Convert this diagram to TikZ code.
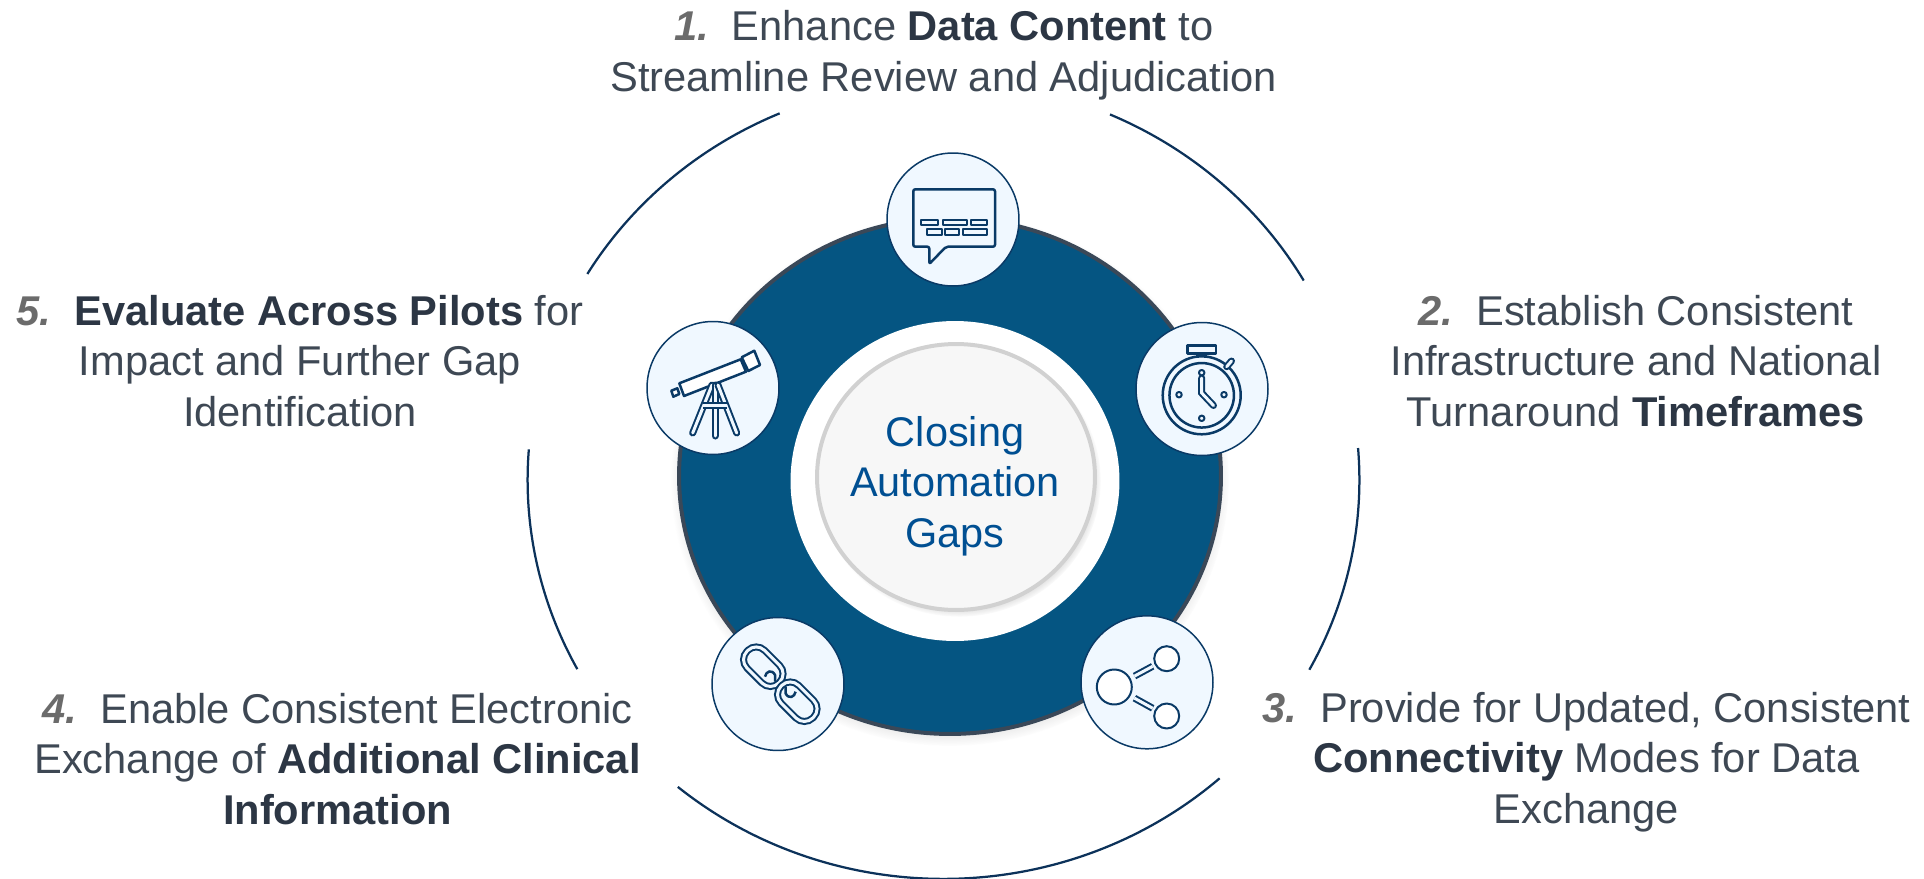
\documentclass[tikz,border=0pt]{standalone}
\usepackage{fontspec}
\setmainfont{Liberation Sans}
\usepackage{tikz}
\usetikzlibrary{shapes,arrows,positioning,calc,shadows}
\definecolor{discblue}{RGB}{5,85,130}
\definecolor{discrim}{RGB}{58,72,88}
\definecolor{ringblue}{RGB}{12,50,90}
\definecolor{iconfill}{RGB}{240,248,255}
\definecolor{iconline}{RGB}{10,58,102}
\definecolor{bodytext}{RGB}{62,72,84}
\definecolor{boldtext}{RGB}{44,54,68}
\definecolor{numgray}{RGB}{107,107,107}
\definecolor{hubtext}{RGB}{0,79,146}
\newcommand{\itemnum}[1]{{\color{numgray}\textbf{\textit{#1}}}\ \ }
\newcommand{\keyterm}[1]{{\color{boldtext}\textbf{#1}}}
\tikzset{
	itemtext/.style={align=center, text=bodytext, inner sep=0pt, font=\fontsize{23.7}{28.8}\selectfont},
	hubtextnode/.style={align=center, text=hubtext, inner sep=0pt, font=\fontsize{23.6}{28.8}\selectfont},
	iconbase/.style={ellipse, draw=iconline, line width=0.03cm, fill=iconfill, inner sep=0pt, minimum width=2.64cm, minimum height=2.66cm},
	ringline/.style={draw=ringblue, line width=0.045cm},
	iconthin/.style={draw=iconline, line width=0.05cm, line join=round},
	icondouble/.style={draw=iconline, line width=0.04cm, double=iconfill, double distance=0.06cm},
}
\begin{document}
\begin{tikzpicture}[x=0.02cm, y=-0.02cm]
	\useasboundingbox (0,0) rectangle (1924,879);
	\coordinate (ringc) at (943.5,480);
	\draw [ringline] ($(ringc)+(148.9:8.32cm and 7.98cm)$) arc [start angle=148.9, end angle=113.2, x radius=8.32cm, y radius=7.98cm];
	\draw [ringline] ($(ringc)+(66.4:8.32cm and 7.98cm)$) arc [start angle=66.4, end angle=30, x radius=8.32cm, y radius=7.98cm];
	\draw [ringline] ($(ringc)+(4.6:8.32cm and 7.98cm)$) arc [start angle=4.6, end angle=-28.4, x radius=8.32cm, y radius=7.98cm];
	\draw [ringline] ($(ringc)+(-48.4:8.32cm and 7.98cm)$) arc [start angle=-48.4, end angle=-129.7, x radius=8.32cm, y radius=7.98cm];
	\draw [ringline] ($(ringc)+(175.6:8.32cm and 7.98cm)$) arc [start angle=175.6, end angle=208.3, x radius=8.32cm, y radius=7.98cm];

	\node [ellipse, draw=discrim, line width=0.08cm, fill=discblue, inner sep=0pt, minimum width=10.84cm, minimum height=10.32cm, circular drop shadow={shadow xshift=0cm, shadow yshift=-0.08cm, shadow scale=1.03, opacity=0.5}] (disc) at (950,476) {};
	\node [ellipse, fill=white, inner sep=0pt, minimum width=6.58cm, minimum height=6.4cm] (hole) at (955,481) {};
	\node [ellipse, draw=black!18, line width=0.08cm, fill=black!3, inner sep=0pt, minimum width=5.56cm, minimum height=5.32cm, circular drop shadow={shadow xshift=0.06cm, shadow yshift=-0.08cm, shadow scale=1.02, opacity=0.6}] (hub) at (956,477) {};
	\node [hubtextnode] (hublabel) at (955,486) {Closing\\Automation\\Gaps};

	\node [iconbase] (chat) at (953,219.5) {};
	\node [iconbase] (watch) at (1202,389) {};
	\node [iconbase] (share) at (1147,682.3) {};
	\node [iconbase] (chain) at (778,684) {};
	\node [iconbase] (scope) at (713,388) {};

	% speech bubble
	\draw [iconthin, rounded corners=0.04cm] (946,246.7) -- (995,246.7) -- (995,189.3) -- (913.3,189.3) -- (913.3,246.7) -- (929.3,246.7) -- (929.3,264) -- cycle;
	\draw [iconthin, line width=0.04cm] (921.3,220) rectangle (938,225.3);
	\draw [iconthin, line width=0.04cm] (942.7,220) rectangle (966.7,225.3);
	\draw [iconthin, line width=0.04cm] (971.3,220) rectangle (986.7,225.3);
	\draw [iconthin, line width=0.04cm] (927.3,229.3) rectangle (941.7,235);
	\draw [iconthin, line width=0.04cm] (945,229.3) rectangle (959.3,235);
	\draw [iconthin, line width=0.04cm] (962.7,229.3) rectangle (986.7,235);

	% stopwatch
	\node [ellipse, iconthin, inner sep=0pt, minimum width=1.56cm, minimum height=1.56cm] (watchout) at (1201.7,395.3) {};
	\node [ellipse, iconthin, inner sep=0pt, minimum width=1.29cm, minimum height=1.29cm] (watchin) at (1201.7,395.3) {};
	\draw [iconthin] (1187.3,345.3) rectangle (1216,353.3);
	\draw [iconthin] (1197.3,353.3) -- (1197.3,358) (1205.3,353.3) -- (1205.3,358);
	\draw [icondouble, line cap=round] (1226.7,366.7) -- (1231.5,361);
	\draw [icondouble, line cap=round] (1201.7,378) -- (1201.7,393) -- (1213.5,405.5);
	\node [circle, iconthin, line width=0.04cm, inner sep=0pt, minimum size=0.11cm] (dotn) at (1201.7,372.7) {};
	\node [circle, iconthin, line width=0.04cm, inner sep=0pt, minimum size=0.11cm] (dots) at (1201.7,418.3) {};
	\node [circle, iconthin, line width=0.04cm, inner sep=0pt, minimum size=0.11cm] (dotw) at (1179,394.7) {};
	\node [circle, iconthin, line width=0.04cm, inner sep=0pt, minimum size=0.11cm] (dote) at (1224,394.7) {};

	% telescope
	\draw [iconthin, fill=white] (679.3,383.3) -- (740.7,359.3) -- (746,371.7) -- (684,396) -- cycle;
	\draw [iconthin, fill=white] (741.7,357.3) -- (754.3,350.7) -- (760,365) -- (748.3,371) -- cycle;
	\draw [iconthin, fill=white] (671.3,390.7) -- (677.3,388.3) -- (679.3,394) -- (673.3,396.7) -- cycle;
	\draw [icondouble, line cap=round] (712,385) -- (692.7,433);
	\draw [icondouble, line cap=round] (715,385) -- (715,436);
	\draw [icondouble, line cap=round] (718,385) -- (736.7,433);
	\draw [icondouble] (702.7,405.5) -- (727,405.5);

	% chain
	\node [rectangle, icondouble, rounded corners=0.24cm, rotate=-45, inner sep=0pt, minimum width=0.9cm, minimum height=0.5cm] (linka) at (763.3,666.7) {};
	\node [rectangle, icondouble, rounded corners=0.24cm, rotate=-45, inner sep=0pt, minimum width=0.9cm, minimum height=0.5cm] (linkb) at (797.3,701.7) {};
	\draw [iconthin] (765,676.7) .. controls (766,671) and (772,669) .. (775,675) -- (775,681.7);
	\draw [iconthin] (795.6,691.7) .. controls (794.6,697.4) and (788.6,699.4) .. (785.6,693.4) -- (785.6,686.7);

	% share symbol
	\node [circle, iconthin, line width=0.04cm, fill=white, inner sep=0pt, minimum size=0.7cm] (nodebig) at (1114.3,687) {};
	\node [circle, iconthin, line width=0.04cm, fill=white, inner sep=0pt, minimum size=0.5cm] (nodeup) at (1166.7,658.7) {};
	\node [circle, iconthin, line width=0.04cm, fill=white, inner sep=0pt, minimum size=0.5cm] (nodedown) at (1166.7,716) {};
	\draw [icondouble, shorten >=0.05cm, shorten <=0.09cm] (nodebig) -- (nodeup);
	\draw [icondouble, shorten >=0.05cm, shorten <=0.09cm] (nodebig) -- (nodedown);

	\node [itemtext] (first) at (943.6,55) {\itemnum{1.}Enhance \keyterm{Data Content} to\\Streamline Review and Adjudication};
	\node [itemtext] (second) at (1636,361) {\itemnum{2.}Establish Consistent\\Infrastructure and National\\Turnaround \keyterm{Timeframes}};
	\node [itemtext] (third) at (1586.5,762) {\itemnum{3.}Provide for Updated, Consistent\\\keyterm{Connectivity} Modes for Data\\Exchange};
	\node [itemtext] (fourth) at (337.5,759) {\itemnum{4.}Enable Consistent Electronic\\Exchange of \keyterm{Additional Clinical}\\\keyterm{Information}};
	\node [itemtext] (fifth) at (300,361) {\itemnum{5.}\keyterm{Evaluate Across Pilots} for\\Impact and Further Gap\\Identification};
\end{tikzpicture}
\end{document}
